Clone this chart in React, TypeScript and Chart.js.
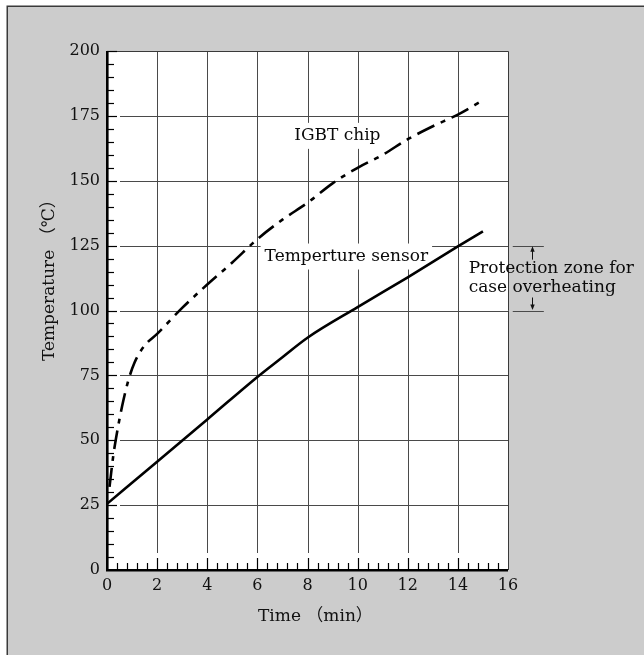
import { useEffect, useRef } from "react";
import { Chart, registerables } from "chart.js";

Chart.register(...registerables);

// ---- data ----
const igbtTime = [0.1, 0.25, 0.4, 0.6, 0.85, 1.1, 1.5, 2, 3, 4, 5, 6, 7, 8, 9, 10, 11, 12, 13, 14, 15];
const igbtTemp = [32, 44, 53, 63, 73, 80, 86.5, 91, 101, 110, 118.5, 127.5, 135, 141.5, 149, 155, 160, 166, 171, 175.5, 181];
const sensorTime = [0, 2, 4, 6, 7, 8, 10, 12, 14, 15];
const sensorTemp = [25.5, 41.7, 58, 74.4, 82, 89.5, 101.3, 112.8, 124.7, 130.5];

const xRange = [0, 16];
const yRange = [0, 200];
const xMajorStep = 2;
const xMinorStep = 0.4;
const yMajorStep = 25;
const yMinorStep = 5;

const zoneLimits = [100, 125];
const labelIgbt = "IGBT chip";
const labelSensor = "Temperture sensor";
const labelZone = ["Protection zone for", "case overheating"];
const xTitle = "Time （min）";
const yTitle = "Temperature （℃）";

// annotation anchors (data coords)
const igbtLabelPos = [9.19, 167.3];
const sensorLabelPos = [9.55, 120.8];
const zoneTextPos = [14.43, 116.2, 108.8];
const zoneLineX = [16.19, 17.43];
const zoneArrowX = 16.95;
const yTitleStartValue = 80.5; // where the y title text begins (bottom end)

const SERIF = "'DejaVu Serif', 'Noto Sans CJK JP', serif";

const paperPlugin = {
  id: "paper",
  beforeDraw(chart: any) {
    const { ctx, width, height, chartArea: a } = chart;
    const ys = chart.scales.y;
    ctx.save();
    ctx.fillStyle = "#ffffff";
    ctx.fillRect(0, 0, width, height);
    ctx.fillStyle = "#cccccc";
    ctx.fillRect(7, 6, width - 7, height - 6);
    ctx.strokeStyle = "#3a3a3a";
    ctx.lineWidth = 1.5;
    ctx.beginPath();
    ctx.moveTo(7.25, height);
    ctx.lineTo(7.25, 6.25);
    ctx.lineTo(width, 6.25);
    ctx.stroke();
    ctx.fillStyle = "#ffffff";
    ctx.fillRect(a.left, a.top, a.right - a.left, a.bottom - a.top);

    ctx.fillStyle = "#111";
    ctx.font = `17px ${SERIF}`;
    ctx.textBaseline = "middle";
    ctx.textAlign = "left";
    // x title
    ctx.fillText(xTitle, (a.left + a.right) / 2 - 49.5, a.bottom + 47);
    // y title
    ctx.translate(49.5, ys.getPixelForValue(yTitleStartValue));
    ctx.rotate(-Math.PI / 2);
    ctx.fillText(yTitle, 0, 0);
    ctx.restore();
  },
  beforeDatasetsDraw(chart: any) {
    const { ctx, chartArea: a } = chart;
    const xs = chart.scales.x;
    const ys = chart.scales.y;
    ctx.save();
    ctx.strokeStyle = "#4a4a4a";
    ctx.lineWidth = 1;
    for (let v = yRange[0] + yMajorStep; v < yRange[1]; v += yMajorStep) {
      const y = Math.round(ys.getPixelForValue(v)) + 0.5;
      ctx.beginPath();
      ctx.moveTo(a.left + 13, y);
      ctx.lineTo(a.right, y);
      ctx.stroke();
    }
    for (let v = xRange[0] + xMajorStep; v < xRange[1]; v += xMajorStep) {
      const x = Math.round(xs.getPixelForValue(v)) + 0.5;
      ctx.beginPath();
      ctx.moveTo(x, a.top);
      ctx.lineTo(x, a.bottom - 17);
      ctx.stroke();
    }
    ctx.strokeStyle = "#3a3a3a";
    ctx.beginPath();
    ctx.moveTo(a.left, Math.round(a.top) + 0.5);
    ctx.lineTo(Math.round(a.right) + 0.5, Math.round(a.top) + 0.5);
    ctx.lineTo(Math.round(a.right) + 0.5, a.bottom);
    ctx.stroke();
    ctx.strokeStyle = "#4a4a4a";
    for (const z of zoneLimits) {
      const y = Math.round(ys.getPixelForValue(z)) + 0.5;
      ctx.beginPath();
      ctx.moveTo(xs.getPixelForValue(zoneLineX[0]), y);
      ctx.lineTo(xs.getPixelForValue(zoneLineX[1]), y);
      ctx.stroke();
    }
    ctx.font = `17px ${SERIF}`;
    const boxes: [string, number[]][] = [
      [labelIgbt, igbtLabelPos],
      [labelSensor, sensorLabelPos],
    ];
    ctx.fillStyle = "#ffffff";
    for (const [t, p] of boxes) {
      const w = ctx.measureText(t).width;
      const cx = xs.getPixelForValue(p[0]);
      const cy = ys.getPixelForValue(p[1]);
      ctx.fillRect(cx - w / 2 - 4, cy - 13, w + 8, 26);
    }
    ctx.restore();
  },
  afterDatasetsDraw(chart: any) {
    const { ctx, chartArea: a } = chart;
    const xs = chart.scales.x;
    const ys = chart.scales.y;
    ctx.save();
    ctx.strokeStyle = "#000";
    ctx.lineWidth = 1.2;
    for (let v = yRange[0] + yMinorStep; v <= yRange[1] + 1e-6; v += yMinorStep) {
      const major = Math.abs(v / yMajorStep - Math.round(v / yMajorStep)) < 1e-6;
      const y = Math.round(ys.getPixelForValue(v)) + 0.5;
      ctx.beginPath();
      ctx.moveTo(a.left, y);
      ctx.lineTo(a.left + (major ? 10 : 7), y);
      ctx.stroke();
    }
    for (let v = xRange[0] + xMinorStep; v < xRange[1] - 1e-6; v += xMinorStep) {
      const major = Math.abs(v / xMajorStep - Math.round(v / xMajorStep)) < 1e-6;
      const x = Math.round(xs.getPixelForValue(v)) + 0.5;
      ctx.beginPath();
      ctx.moveTo(x, a.bottom);
      ctx.lineTo(x, a.bottom - (major ? 12 : 7));
      ctx.stroke();
    }
    ctx.lineWidth = 2.6;
    ctx.beginPath();
    ctx.moveTo(a.left + 0.3, a.top);
    ctx.lineTo(a.left + 0.3, a.bottom + 0.3);
    ctx.lineTo(a.right, a.bottom + 0.3);
    ctx.stroke();

    ctx.fillStyle = "#0a0a0a";
    ctx.font = `17px ${SERIF}`;
    ctx.textAlign = "center";
    ctx.textBaseline = "middle";
    ctx.fillText(labelIgbt, xs.getPixelForValue(igbtLabelPos[0]), ys.getPixelForValue(igbtLabelPos[1]));
    ctx.fillText(labelSensor, xs.getPixelForValue(sensorLabelPos[0]), ys.getPixelForValue(sensorLabelPos[1]));
    ctx.textAlign = "left";
    ctx.fillText(labelZone[0], xs.getPixelForValue(zoneTextPos[0]), ys.getPixelForValue(zoneTextPos[1]));
    ctx.fillText(labelZone[1], xs.getPixelForValue(zoneTextPos[0]), ys.getPixelForValue(zoneTextPos[2]));

    const ax = Math.round(xs.getPixelForValue(zoneArrowX)) + 0.5;
    const yTop = ys.getPixelForValue(zoneLimits[1]);
    const yBot = ys.getPixelForValue(zoneLimits[0]);
    ctx.strokeStyle = "#111";
    ctx.fillStyle = "#111";
    ctx.lineWidth = 1;
    ctx.beginPath();
    ctx.moveTo(ax, yTop + 4);
    ctx.lineTo(ax, yTop + 14);
    ctx.moveTo(ax, yBot - 4);
    ctx.lineTo(ax, yBot - 13);
    ctx.stroke();
    ctx.beginPath();
    ctx.moveTo(ax, yTop + 0.5);
    ctx.lineTo(ax - 2.2, yTop + 6);
    ctx.lineTo(ax + 2.2, yTop + 6);
    ctx.closePath();
    ctx.fill();
    ctx.beginPath();
    ctx.moveTo(ax, yBot - 0.5);
    ctx.lineTo(ax - 2.2, yBot - 6);
    ctx.lineTo(ax + 2.2, yBot - 6);
    ctx.closePath();
    ctx.fill();
    ctx.restore();
  },
};

export default function App() {
  const ref = useRef<HTMLCanvasElement | null>(null);

  useEffect(() => {
    if (!ref.current) return;
    const chart = new Chart(ref.current, {
      type: "line",
      data: {
        datasets: [
          {
            label: labelIgbt,
            data: igbtTime.map((t, i) => ({ x: t, y: igbtTemp[i] })),
            borderColor: "#000",
            borderWidth: 2.6,
            borderDash: [19, 7, 5, 7],
            pointRadius: 0,
            cubicInterpolationMode: "monotone",
            fill: false,
          },
          {
            label: labelSensor,
            data: sensorTime.map((t, i) => ({ x: t, y: sensorTemp[i] })),
            borderColor: "#000",
            borderWidth: 2.6,
            pointRadius: 0,
            cubicInterpolationMode: "monotone",
            fill: false,
          },
        ],
      },
      options: {
        responsive: false,
        animation: false,
        devicePixelRatio: 1,
        layout: { padding: { left: 0, top: 51, right: 136, bottom: 0 } },
        plugins: { legend: { display: false }, tooltip: { enabled: false } },
        scales: {
          x: {
            type: "linear",
            min: xRange[0],
            max: xRange[1],
            grid: { display: false, drawTicks: false },
            border: { display: false },
            ticks: {
              stepSize: xMajorStep,
              padding: 6,
              color: "#111",
              font: { family: SERIF, size: 16 },
            },
            title: { display: false, text: xTitle },
            afterFit: (s: any) => {
              s.height = 85;
            },
          },
          y: {
            type: "linear",
            min: yRange[0],
            max: yRange[1],
            grid: { display: false, drawTicks: false },
            border: { display: false },
            ticks: {
              stepSize: yMajorStep,
              padding: 7,
              color: "#111",
              font: { family: SERIF, size: 16 },
            },
            title: { display: false, text: yTitle },
            afterFit: (s: any) => {
              s.width = 107;
            },
          },
        },
      },
      plugins: [paperPlugin],
    } as any);
    return () => chart.destroy();
  }, []);

  return (
    <div style={{ position: "absolute", left: 0, top: 0, width: 644, height: 655 }}>
      <canvas ref={ref} width={644} height={655} style={{ width: 644, height: 655, display: "block" }} />
    </div>
  );
}
